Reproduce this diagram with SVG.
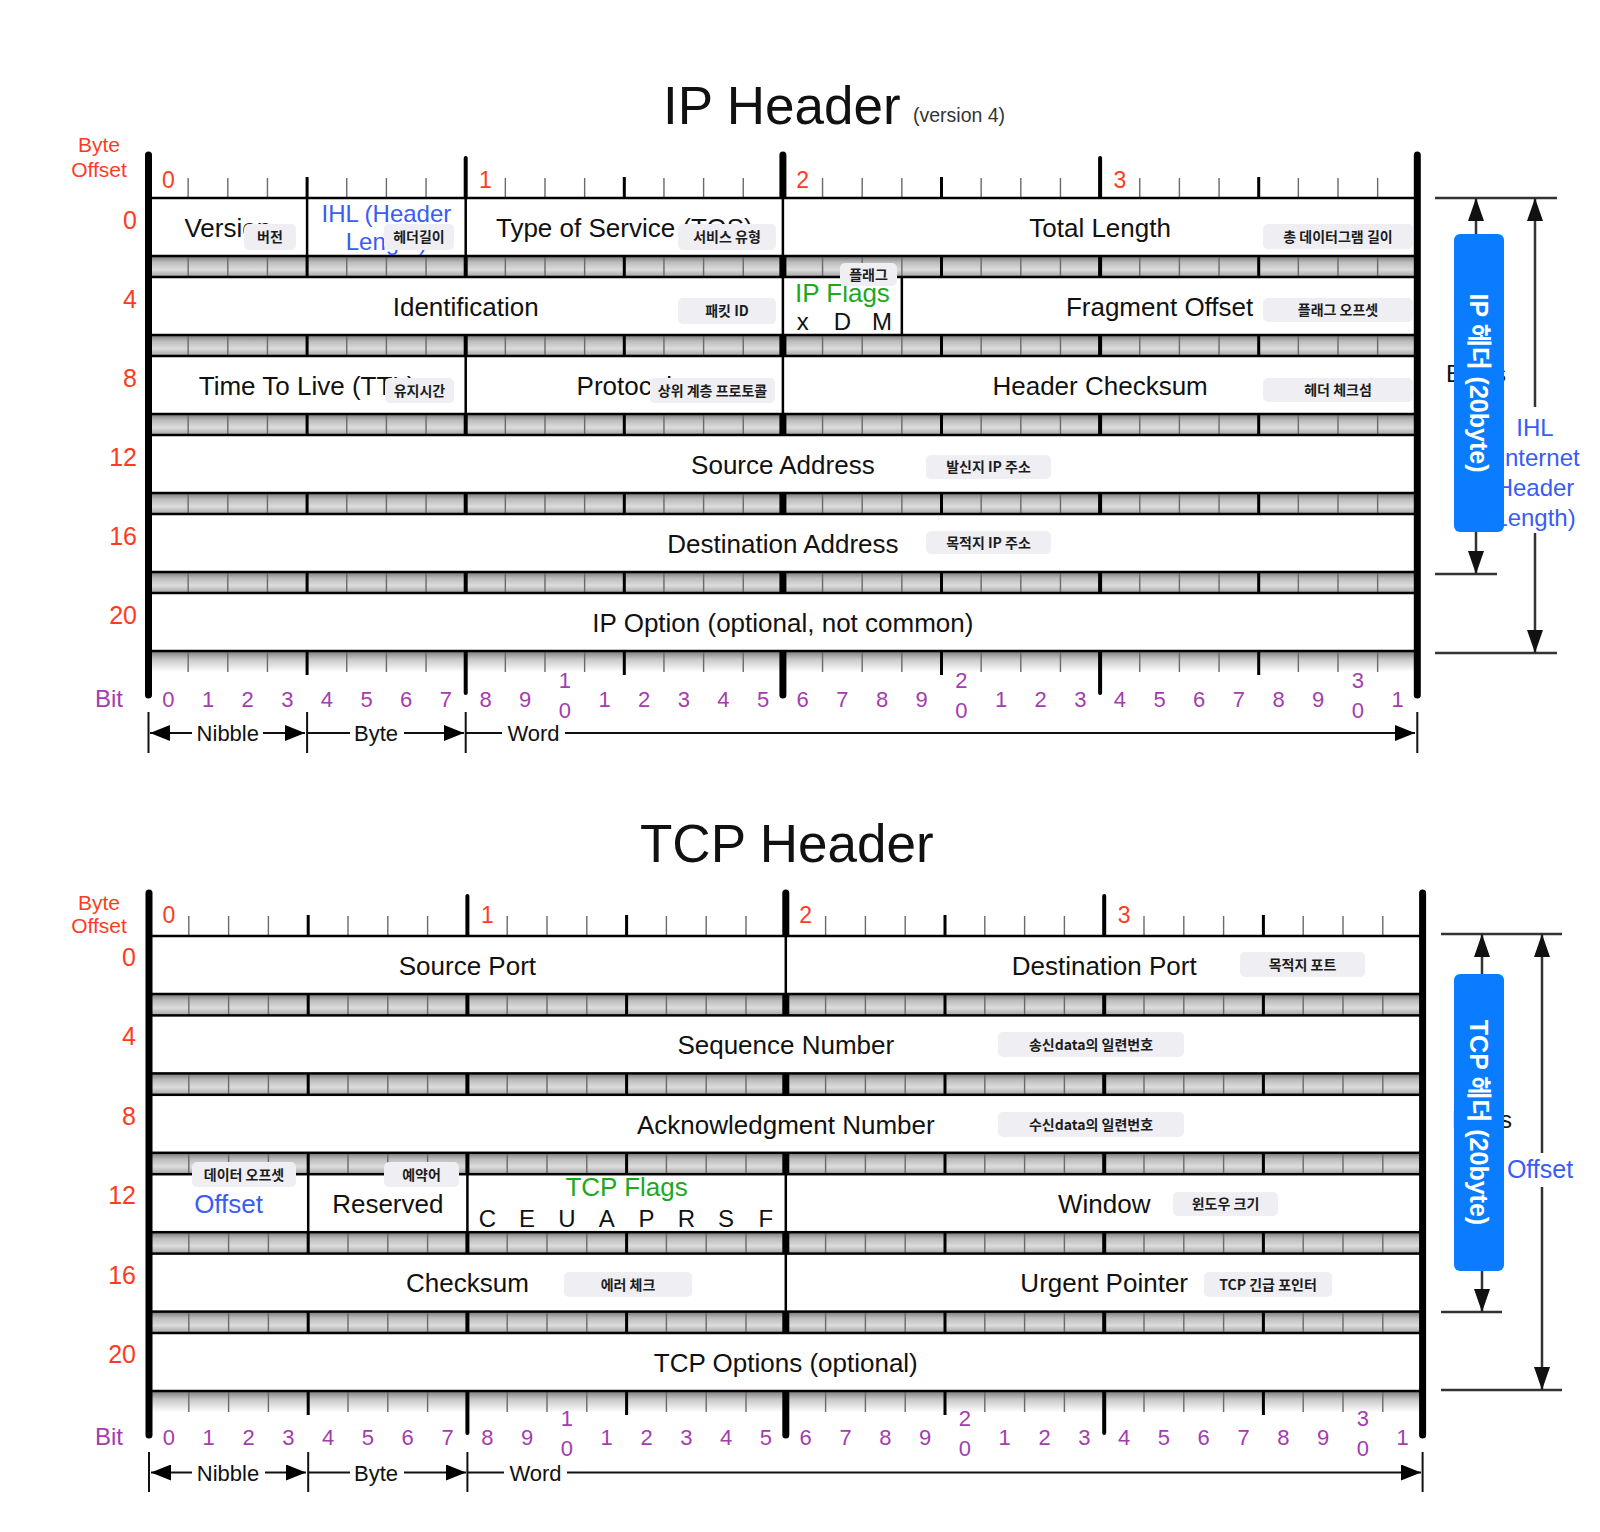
<svg xmlns="http://www.w3.org/2000/svg" width="1600" height="1532" viewBox="0 0 1600 1532">
<style>
text{font-family:"Liberation Sans","Noto Sans CJK KR",sans-serif}
.t{font-size:26px;fill:#111;text-anchor:middle}
.sm{font-size:24px;fill:#111;text-anchor:middle}
.title{font-size:53px;fill:#111}
.red{fill:#ff3b1f}
.bo{font-size:21px;text-anchor:middle}
.rl{font-size:25px;text-anchor:end}
.bl{font-size:23px;text-anchor:middle}
.pur{fill:#a43cb0;font-size:22px;text-anchor:middle}
.blue{fill:#3a5cf5}
.green{fill:#1ea81e}
.tag rect{fill:#eeeef3}
.tag text{font-family:"Noto Sans CJK KR","Liberation Sans",sans-serif;font-weight:700;font-size:14px;fill:#1c1c1c;text-anchor:middle}
.row{fill:#fff;stroke:#000;stroke-width:2.5}
.band{fill:url(#band)}
.bandb{fill:url(#bandb)}
.tick{stroke:#6a6a6a;stroke-width:1.4;fill:none}
.nib{stroke:#000;stroke-width:3;fill:none}
.b4{stroke:#000;stroke-width:4;stroke-linecap:round;fill:none}
.b7{stroke:#000;stroke-width:7;stroke-linecap:round;fill:none}
.sep{stroke:#000;stroke-width:2.5;fill:none}
.dim{stroke:#111;stroke-width:2;fill:none}
.rs{stroke:#333;stroke-width:2.5;fill:none}
.box{fill:#0a7cff}
.boxt{font-family:"Liberation Sans","Noto Sans CJK KR",sans-serif;font-weight:700;font-size:25px;fill:#fff;text-anchor:middle}
</style>
<defs>
<linearGradient id="band" x1="0" y1="0" x2="0" y2="1">
<stop offset="0" stop-color="#777"/><stop offset="0.3" stop-color="#bcbcbc"/><stop offset="0.65" stop-color="#dcdcdc"/><stop offset="1" stop-color="#a2a2a2"/>
</linearGradient>
<linearGradient id="bandb" x1="0" y1="0" x2="0" y2="1">
<stop offset="0" stop-color="#7a7a7a"/><stop offset="0.4" stop-color="#c8c8c8"/><stop offset="1" stop-color="#ffffff"/>
</linearGradient>
<marker id="ah" viewBox="0 0 20 16" refX="20" refY="8" markerWidth="20" markerHeight="16" markerUnits="userSpaceOnUse" orient="auto-start-reverse"><path d="M0 0L20 8L0 16z" fill="#000"/></marker>
<marker id="av" viewBox="0 0 23 16" refX="23" refY="8" markerWidth="23" markerHeight="16" markerUnits="userSpaceOnUse" orient="auto-start-reverse"><path d="M0 0L23 8L0 16z" fill="#111"/></marker>
</defs>
<rect width="1600" height="1532" fill="#fff"/>

<!-- ================= IP HEADER ================= -->
<g id="ip-title">
<text class="title" x="663" y="124">IP Header</text>
<text x="913" y="122" style="font-size:19.5px;fill:#333">(version 4)</text>
</g>
<g id="ip-frame">
<rect class="band" x="148.5" y="256" width="1268.8" height="21"/>
<rect class="band" x="148.5" y="335" width="1268.8" height="21"/>
<rect class="band" x="148.5" y="414" width="1268.8" height="21"/>
<rect class="band" x="148.5" y="493" width="1268.8" height="21"/>
<rect class="band" x="148.5" y="572" width="1268.8" height="21"/>
<rect class="bandb" x="148.5" y="651" width="1268.8" height="21"/>
<path class="tick" d="M188.15 178V672M227.8 178V672M267.45 178V672M346.75 178V672M386.4 178V672M426.05 178V672M505.35 178V672M545 178V672M584.65 178V672M663.95 178V672M703.6 178V672M743.25 178V672M822.55 178V672M862.2 178V672M901.85 178V672M981.15 178V672M1020.8 178V672M1060.45 178V672M1139.75 178V672M1179.4 178V672M1219.05 178V672M1298.35 178V672M1338 178V672M1377.65 178V672"/>
<path class="nib" d="M307.1 177V675M624.3 177V675M941.5 177V675M1258.7 177V675"/>
<path class="b4" d="M465.7 158V693M1100.1 158V693"/>
<path class="b7" d="M782.9 155V695"/>
<rect class="row" x="148.5" y="198" width="1268.8" height="58"/>
<rect class="row" x="148.5" y="277" width="1268.8" height="58"/>
<rect class="row" x="148.5" y="356" width="1268.8" height="58"/>
<rect class="row" x="148.5" y="435" width="1268.8" height="58"/>
<rect class="row" x="148.5" y="514" width="1268.8" height="58"/>
<rect class="row" x="148.5" y="593" width="1268.8" height="58"/>
<path class="sep" d="M307.1 198V256M465.7 198V256M782.9 198V256M782.9 277V335M901.85 277V335M465.7 356V414M782.9 356V414"/>
<path class="b7" d="M148.5 155V695M1417.3 155V695"/>
</g>
<g id="ip-labels">
<text class="bo red" x="99" y="152">Byte</text>
<text class="bo red" x="99" y="177">Offset</text>
<text class="bl red" x="168.3" y="188">0</text>
<text class="bl red" x="485.5" y="188">1</text>
<text class="bl red" x="802.7" y="188">2</text>
<text class="bl red" x="1119.9" y="188">3</text>
<text class="rl red" x="137" y="229">0</text>
<text class="rl red" x="137" y="308">4</text>
<text class="rl red" x="137" y="387">8</text>
<text class="rl red" x="137" y="466">12</text>
<text class="rl red" x="137" y="545">16</text>
<text class="rl red" x="137" y="624">20</text>
<text x="95" y="707" style="font-size:24px;fill:#a43cb0">Bit</text>
<text class="pur" x="168.3 208 247.6 287.3 326.9 366.6 406.2 445.9 485.5 525.2 604.5 644.1 683.8 723.4 763.1 802.7 842.4 882 921.7 1001 1040.6 1080.3 1119.9 1159.6 1199.2 1238.9 1278.5 1318.2 1397.5" y="707">01234567891234567891234567891</text>
<text class="pur" x="564.8 961.3 1357.8" y="688">123</text>
<text class="pur" x="564.8 961.3 1357.8" y="718">000</text>
</g>
<g id="ip-version"><text class="t" x="227.8" y="237">Version</text></g>
<g id="ip-ihl"><text class="blue" x="386.4" y="222" style="font-size:24px;text-anchor:middle">IHL (Header</text><text class="blue" x="386.4" y="250" style="font-size:24px;text-anchor:middle">Length)</text></g>
<g id="ip-tos"><text class="t" x="624.3" y="237">Type of Service (TOS)</text></g>
<g id="ip-total-length"><text class="t" x="1100.1" y="237">Total Length</text></g>
<g id="ip-identification"><text class="t" x="465.7" y="316">Identification</text></g>
<g id="ip-flags"><text class="t green" x="842.4" y="302">IP Flags</text><text class="sm" x="802.7 842.4 882" y="330">xDM</text></g>
<g id="ip-fragment-offset"><text class="t" x="1159.6" y="316">Fragment Offset</text></g>
<g id="ip-ttl"><text class="t" x="307.1" y="395">Time To Live (TTL)</text></g>
<g id="ip-protocol"><text class="t" x="624.3" y="395">Protocol</text></g>
<g id="ip-checksum"><text class="t" x="1100.1" y="395">Header Checksum</text></g>
<g id="ip-source"><text class="t" x="782.9" y="474">Source Address</text></g>
<g id="ip-destination"><text class="t" x="782.9" y="553">Destination Address</text></g>
<g id="ip-option"><text class="t" x="782.9" y="632">IP Option (optional, not common)</text></g>
<g id="ip-tags" class="tag">
<rect x="244" y="224" width="52" height="26" rx="5"/><text x="270" y="242">버전</text>
<rect x="384" y="224" width="70" height="26" rx="5"/><text x="419" y="242">헤더길이</text>
<rect x="678" y="224" width="98" height="26" rx="5"/><text x="727" y="242">서비스 유형</text>
<rect x="1263" y="224" width="150" height="25" rx="5"/><text x="1338" y="241.5">총 데이터그램 길이</text>
<rect x="678" y="298" width="98" height="26" rx="5"/><text x="727" y="316">패킷 ID</text>
<rect x="840" y="263" width="57" height="23" rx="5"/><text x="868.5" y="279.5">플래그</text>
<rect x="1263" y="298" width="150" height="24" rx="5"/><text x="1338" y="315">플래그 오프셋</text>
<rect x="385" y="378" width="69" height="25" rx="5"/><text x="419.5" y="395.5">유지시간</text>
<rect x="650" y="378" width="125" height="25" rx="5"/><text x="712.5" y="395.5">상위 계층 프로토콜</text>
<rect x="1263" y="378" width="150" height="24" rx="5"/><text x="1338" y="395">헤더 체크섬</text>
<rect x="926" y="455" width="125" height="24" rx="5"/><text x="988.5" y="472">발신지 IP 주소</text>
<rect x="926" y="531" width="125" height="23" rx="5"/><text x="988.5" y="547.5">목적지 IP 주소</text>
</g>
<g id="ip-connectors">
<line class="dim" x1="150" y1="733" x2="192" y2="733" marker-start="url(#ah)"/>
<line class="dim" x1="263" y1="733" x2="305" y2="733" marker-end="url(#ah)"/>
<line class="dim" x1="307" y1="733" x2="350" y2="733"/>
<line class="dim" x1="404" y1="733" x2="464" y2="733" marker-end="url(#ah)"/>
<line class="dim" x1="466" y1="733" x2="502" y2="733"/>
<line class="dim" x1="565" y1="733" x2="1415" y2="733" marker-end="url(#ah)"/>
<path class="dim" d="M148.5 712V753M307.1 712V753M465.7 712V753M1417.3 712V753"/>
<path class="rs" d="M1435 198H1557M1435 574H1497M1435 653H1557"/>
<line class="rs" x1="1476" y1="198" x2="1476" y2="574" marker-start="url(#av)" marker-end="url(#av)"/>
<line class="rs" x1="1535" y1="198" x2="1535" y2="407" marker-start="url(#av)"/>
<line class="rs" x1="1535" y1="533" x2="1535" y2="653" marker-end="url(#av)"/>
</g>
<g id="ip-dim-labels">
<text x="227.8" y="741" style="font-size:22px;fill:#111;text-anchor:middle">Nibble</text>
<text x="376" y="741" style="font-size:22px;fill:#111;text-anchor:middle">Byte</text>
<text x="533.5" y="741" style="font-size:22px;fill:#111;text-anchor:middle">Word</text>
<text class="sm" x="1476" y="382">Bytes</text>
<text class="sm blue" x="1535" y="436">IHL</text>
<text class="sm blue" x="1535" y="466">(Internet</text>
<text class="sm blue" x="1535" y="496">Header</text>
<text class="sm blue" x="1535" y="526">Length)</text>
</g>
<g id="ip-size-box">
<rect class="box" x="1454" y="234" width="50" height="298" rx="6"/>
<text class="boxt" transform="translate(1479,383) rotate(90)" x="0" y="9">IP 헤더 (20byte)</text>
</g>

<!-- ================= TCP HEADER ================= -->
<g id="tcp-title"><text class="title" x="640" y="862">TCP Header</text></g>
<g id="tcp-frame">
<rect class="band" x="149" y="994" width="1273.6" height="21.4"/>
<rect class="band" x="149" y="1073.4" width="1273.6" height="21.4"/>
<rect class="band" x="149" y="1152.8" width="1273.6" height="21.4"/>
<rect class="band" x="149" y="1232.2" width="1273.6" height="21.4"/>
<rect class="band" x="149" y="1311.6" width="1273.6" height="21.4"/>
<rect class="bandb" x="149" y="1391" width="1273.6" height="21.4"/>
<path class="tick" d="M188.8 916V1412M228.6 916V1412M268.4 916V1412M348 916V1412M387.8 916V1412M427.6 916V1412M507.2 916V1412M547 916V1412M586.8 916V1412M666.4 916V1412M706.2 916V1412M746 916V1412M825.6 916V1412M865.4 916V1412M905.2 916V1412M984.8 916V1412M1024.6 916V1412M1064.4 916V1412M1144 916V1412M1183.8 916V1412M1223.6 916V1412M1303.2 916V1412M1343 916V1412M1382.8 916V1412"/>
<path class="nib" d="M308.2 915V1415M626.6 915V1415M945 915V1415M1263.4 915V1415"/>
<path class="b4" d="M467.4 896V1433M1104.2 896V1433"/>
<path class="b7" d="M785.8 893V1435"/>
<rect class="row" x="149" y="936" width="1273.6" height="58"/>
<rect class="row" x="149" y="1015.4" width="1273.6" height="58"/>
<rect class="row" x="149" y="1094.8" width="1273.6" height="58"/>
<rect class="row" x="149" y="1174.2" width="1273.6" height="58"/>
<rect class="row" x="149" y="1253.6" width="1273.6" height="58"/>
<rect class="row" x="149" y="1333" width="1273.6" height="58"/>
<path class="sep" d="M785.8 936V994M308.2 1174.2V1232.2M467.4 1174.2V1232.2M785.8 1174.2V1232.2M785.8 1253.6V1311.6"/>
<path class="b7" d="M149 893V1435M1422.6 893V1435"/>
</g>
<g id="tcp-labels">
<text class="bo red" x="99" y="910">Byte</text>
<text class="bo red" x="99" y="933">Offset</text>
<text class="bl red" x="168.9" y="923">0</text>
<text class="bl red" x="487.3" y="923">1</text>
<text class="bl red" x="805.7" y="923">2</text>
<text class="bl red" x="1124.1" y="923">3</text>
<text class="rl red" x="136" y="966">0</text>
<text class="rl red" x="136" y="1045.4">4</text>
<text class="rl red" x="136" y="1124.8">8</text>
<text class="rl red" x="136" y="1204.2">12</text>
<text class="rl red" x="136" y="1283.6">16</text>
<text class="rl red" x="136" y="1363">20</text>
<text x="95" y="1445" style="font-size:24px;fill:#a43cb0">Bit</text>
<text class="pur" x="168.9 208.7 248.5 288.3 328.1 367.9 407.7 447.5 487.3 527.1 606.7 646.5 686.3 726.1 765.9 805.7 845.5 885.3 925.1 1004.7 1044.5 1084.3 1124.1 1163.9 1203.7 1243.5 1283.3 1323.1 1402.7" y="1445">01234567891234567891234567891</text>
<text class="pur" x="566.9 964.9 1362.9" y="1426">123</text>
<text class="pur" x="566.9 964.9 1362.9" y="1456">000</text>
</g>
<g id="tcp-source-port"><text class="t" x="467.4" y="974.5">Source Port</text></g>
<g id="tcp-destination-port"><text class="t" x="1104.2" y="974.5">Destination Port</text></g>
<g id="tcp-sequence"><text class="t" x="785.8" y="1054">Sequence Number</text></g>
<g id="tcp-ack"><text class="t" x="785.8" y="1133.5">Acknowledgment Number</text></g>
<g id="tcp-offset"><text class="t blue" x="228.6" y="1213">Offset</text></g>
<g id="tcp-reserved"><text class="t" x="387.8" y="1213">Reserved</text></g>
<g id="tcp-flags"><text class="t green" x="626.6" y="1196">TCP Flags</text><text class="sm" x="487.3 527.1 566.9 606.7 646.5 686.3 726.1 765.9" y="1227">CEUAPRSF</text></g>
<g id="tcp-window"><text class="t" x="1104.2" y="1213">Window</text></g>
<g id="tcp-checksum"><text class="t" x="467.4" y="1292">Checksum</text></g>
<g id="tcp-urgent"><text class="t" x="1104.2" y="1292">Urgent Pointer</text></g>
<g id="tcp-options"><text class="t" x="785.8" y="1371.5">TCP Options (optional)</text></g>
<g id="tcp-tags" class="tag">
<rect x="1240" y="952" width="125" height="25" rx="5"/><text x="1302.5" y="969.5">목적지 포트</text>
<rect x="998" y="1032" width="186" height="25" rx="5"/><text x="1091" y="1049.5">송신data의 일련번호</text>
<rect x="998" y="1112" width="186" height="25" rx="5"/><text x="1091" y="1129.5">수신data의 일련번호</text>
<rect x="192" y="1162" width="104" height="25" rx="5"/><text x="244" y="1179.5">데이터 오프셋</text>
<rect x="384" y="1162" width="75" height="25" rx="5"/><text x="421.5" y="1179.5">예약어</text>
<rect x="1173" y="1192" width="105" height="24" rx="5"/><text x="1225.5" y="1209">윈도우 크기</text>
<rect x="564" y="1272" width="128" height="25" rx="5"/><text x="628" y="1289.5">에러 체크</text>
<rect x="1204" y="1272" width="128" height="25" rx="5"/><text x="1268" y="1289.5">TCP 긴급 포인터</text>
</g>
<g id="tcp-connectors">
<line class="dim" x1="151" y1="1472.5" x2="192" y2="1472.5" marker-start="url(#ah)"/>
<line class="dim" x1="265" y1="1472.5" x2="306" y2="1472.5" marker-end="url(#ah)"/>
<line class="dim" x1="308" y1="1472.5" x2="350" y2="1472.5"/>
<line class="dim" x1="404" y1="1472.5" x2="466" y2="1472.5" marker-end="url(#ah)"/>
<line class="dim" x1="468" y1="1472.5" x2="504" y2="1472.5"/>
<line class="dim" x1="567" y1="1472.5" x2="1421" y2="1472.5" marker-end="url(#ah)"/>
<path class="dim" d="M149 1452V1492M308.2 1452V1492M467.4 1452V1492M1422.6 1452V1492"/>
<path class="rs" d="M1441 934H1562M1441 1312H1502M1441 1390H1562"/>
<line class="rs" x1="1482" y1="934" x2="1482" y2="1312" marker-start="url(#av)" marker-end="url(#av)"/>
<line class="rs" x1="1542" y1="934" x2="1542" y2="1153" marker-start="url(#av)"/>
<line class="rs" x1="1542" y1="1187" x2="1542" y2="1390" marker-end="url(#av)"/>
</g>
<g id="tcp-dim-labels">
<text x="228" y="1480.5" style="font-size:22px;fill:#111;text-anchor:middle">Nibble</text>
<text x="376" y="1480.5" style="font-size:22px;fill:#111;text-anchor:middle">Byte</text>
<text x="535.5" y="1480.5" style="font-size:22px;fill:#111;text-anchor:middle">Word</text>
<text class="sm" x="1482" y="1128">Bytes</text>
<text class="blue" x="1540" y="1178" style="font-size:25px;text-anchor:middle">Offset</text>
</g>
<g id="tcp-size-box">
<rect class="box" x="1454" y="974" width="50" height="297" rx="6"/>
<text class="boxt" transform="translate(1479,1122.5) rotate(90)" x="0" y="9">TCP 헤더 (20byte)</text>
</g>
</svg>
